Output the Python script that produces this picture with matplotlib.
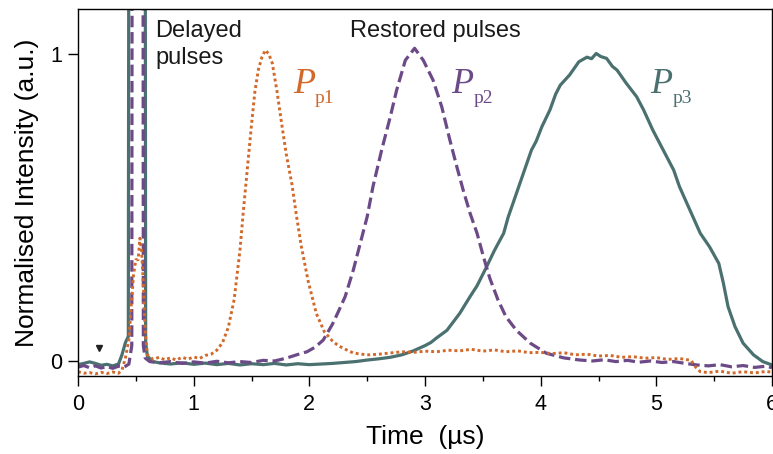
import matplotlib
matplotlib.use('Agg')
import matplotlib.pyplot as plt
from matplotlib.ticker import MultipleLocator

###### Data ######
# Pp1 - orange dotted
t_p1 = [0.00, 0.05, 0.10, 0.15, 0.20, 0.25, 0.30, 0.35, 0.38, 0.41, 0.44, 0.46, 0.48, 0.50,
        0.52, 0.535, 0.55, 0.565, 0.58, 0.60, 0.65, 0.70, 0.75, 0.80, 0.85, 0.90, 0.95, 1.00,
        1.05, 1.10, 1.15, 1.20, 1.25, 1.30, 1.35, 1.40, 1.43, 1.46, 1.50, 1.53, 1.56, 1.59,
        1.62, 1.65, 1.68, 1.72, 1.76, 1.80, 1.85, 1.89, 1.93, 1.99, 2.06, 2.13, 2.20, 2.25,
        2.30, 2.38, 2.45, 2.52, 2.60, 2.70, 2.80, 2.90, 3.00, 3.10, 3.20, 3.30, 3.40, 3.50,
        3.60, 3.70, 3.80, 3.90, 4.00, 4.10, 4.20, 4.30, 4.40, 4.50, 4.60, 4.70, 4.80, 4.90,
        5.00, 5.10, 5.20, 5.30, 5.34, 5.38, 5.45, 5.55, 5.65, 5.75, 5.85, 5.95, 6.00]
i_p1 = [-0.035, -0.040, -0.038, -0.042, -0.037, -0.041, -0.036, -0.040, -0.030, 0.010, 0.070,
        0.180, 0.280, 0.330, 0.330, 0.400, 0.360, 0.250, 0.100, 0.020, 0.005, 0.012, 0.004,
        0.010, 0.003, 0.012, 0.006, 0.013, 0.008, 0.018, 0.022, 0.035, 0.060, 0.110, 0.200,
        0.360, 0.490, 0.610, 0.770, 0.880, 0.950, 0.990, 1.013, 1.000, 0.970, 0.880, 0.775,
        0.675, 0.575, 0.470, 0.375, 0.260, 0.155, 0.095, 0.065, 0.050, 0.040, 0.026, 0.022,
        0.020, 0.022, 0.026, 0.030, 0.028, 0.032, 0.030, 0.035, 0.033, 0.038, 0.032, 0.036,
        0.030, 0.033, 0.027, 0.028, 0.024, 0.027, 0.020, 0.022, 0.016, 0.018, 0.012, 0.014,
        0.009, 0.011, 0.005, 0.008, 0.002, -0.020, -0.035, -0.038, -0.033, -0.040, -0.035,
        -0.039, -0.034, -0.037]

# Pp2 - purple dashed
t_p2 = [0.00, 0.05, 0.10, 0.15, 0.20, 0.25, 0.30, 0.35, 0.40, 0.44, 0.465, 0.475, 0.555, 0.565,
        0.58, 0.62, 0.70, 0.80, 0.90, 1.00, 1.10, 1.20, 1.30, 1.40, 1.50, 1.60, 1.70, 1.80,
        1.89, 1.98, 2.05, 2.12, 2.20, 2.25, 2.31, 2.38, 2.44, 2.50, 2.55, 2.625, 2.70, 2.755,
        2.83, 2.91, 2.985, 3.07, 3.145, 3.215, 3.275, 3.33, 3.39, 3.45, 3.505, 3.56, 3.63,
        3.70, 3.79, 3.91, 4.05, 4.20, 4.34, 4.45, 4.55, 4.65, 4.75, 4.85, 4.95, 5.05, 5.15,
        5.25, 5.35, 5.45, 5.55, 5.65, 5.75, 5.85, 5.95, 6.00]
i_p2 = [-0.020, -0.015, -0.022, -0.016, -0.023, -0.018, -0.024, -0.017, -0.020, -0.010, 0.050,
        5.0, 5.0, 0.050, 0.010, -0.002, -0.006, -0.002, -0.008, -0.003, -0.007, -0.001, -0.006,
        -0.002, -0.005, 0.002, 0.000, 0.009, 0.020, 0.030, 0.045, 0.068, 0.120, 0.160, 0.210,
        0.296, 0.383, 0.470, 0.568, 0.687, 0.796, 0.883, 0.980, 1.019, 0.980, 0.915, 0.828,
        0.720, 0.633, 0.557, 0.481, 0.416, 0.340, 0.270, 0.200, 0.144, 0.100, 0.058, 0.025,
        0.010, 0.003, 0.000, 0.004, -0.002, 0.002, -0.004, 0.000, -0.005, -0.002, -0.008,
        -0.013, -0.016, -0.012, -0.019, -0.015, -0.021, -0.017, -0.022]

# Pp3 - teal solid
t_p3 = [0.00, 0.05, 0.10, 0.15, 0.20, 0.25, 0.30, 0.35, 0.38, 0.41, 0.435, 0.45, 0.572, 0.585,
        0.60, 0.65, 0.70, 0.80, 0.90, 1.00, 1.10, 1.20, 1.30, 1.40, 1.50, 1.60, 1.70, 1.80,
        1.90, 2.00, 2.10, 2.20, 2.30, 2.40, 2.50, 2.60, 2.70, 2.80, 2.90, 3.00, 3.05, 3.10,
        3.19, 3.30, 3.39, 3.45, 3.53, 3.60, 3.68, 3.72, 3.76, 3.85, 3.92, 3.96, 4.01, 4.08,
        4.13, 4.17, 4.25, 4.33, 4.40, 4.44, 4.48, 4.52, 4.57, 4.62, 4.66, 4.74, 4.83, 4.89,
        4.97, 5.06, 5.15, 5.20, 5.29, 5.38, 5.46, 5.54, 5.58, 5.62, 5.68, 5.75, 5.84, 5.92,
        6.00]
i_p3 = [-0.012, -0.008, -0.003, -0.008, -0.014, -0.011, -0.016, -0.010, 0.020, 0.060, 0.080,
        5.0, 5.0, 0.060, 0.015, -0.002, -0.006, -0.010, -0.006, -0.011, -0.007, -0.012, -0.008,
        -0.013, -0.009, -0.012, -0.008, -0.013, -0.009, -0.012, -0.010, -0.008, -0.005, -0.002,
        0.003, 0.007, 0.012, 0.020, 0.033, 0.050, 0.060, 0.075, 0.100, 0.155, 0.210, 0.245,
        0.305, 0.360, 0.416, 0.470, 0.513, 0.611, 0.687, 0.715, 0.763, 0.818, 0.870, 0.899,
        0.932, 0.975, 0.990, 0.985, 1.002, 0.992, 0.986, 0.960, 0.948, 0.905, 0.861, 0.818,
        0.752, 0.687, 0.622, 0.568, 0.492, 0.416, 0.372, 0.318, 0.253, 0.177, 0.112, 0.058,
        0.020, -0.002, -0.013]

labels = ['p1', 'p2', 'p3']
label_x = [1.86, 3.23, 4.95]
colors = ['#D2692A', '#6C4A87', '#4A716F']

###### Plot ######
plt.rcParams['font.family'] = ['Liberation Sans', 'DejaVu Sans']

fig = plt.figure(figsize=(7.73, 4.54), dpi=100)
ax = fig.add_axes([78/773, 1 - 376/454, 694/773, (376 - 9.3)/454])

ax.plot(t_p3, i_p3, color=colors[2], lw=2.3, solid_joinstyle='round')
ax.plot(t_p2, i_p2, color=colors[1], lw=2.3, linestyle=(0, (3.6, 1.5)))
ax.plot(t_p1, i_p1, color=colors[0], lw=2.1, linestyle=(0, (1, 1)))

# small marker near the start
ax.plot([0.18], [0.042], marker='v', color='#222222', markersize=5, linestyle='none')

ax.set_xlim(0, 6)
ax.set_ylim(-0.049, 1.146)
ax.xaxis.set_major_locator(MultipleLocator(1))
ax.xaxis.set_minor_locator(MultipleLocator(0.5))
ax.set_yticks([0, 1])
ax.set_yticklabels(['0', '1'])
ax.tick_params(axis='both', which='major', direction='out', length=7, width=1.0,
               labelsize=15.5, pad=4)
ax.tick_params(axis='x', which='major', pad=6)
ax.tick_params(axis='x', which='minor', direction='out', length=3.5, width=1.0)
for s in ax.spines.values():
    s.set_linewidth(1.0)

ax.set_xlabel('Time  (\u00b5s)', fontsize=19, labelpad=7)
ax.set_ylabel('Normalised Intensity (a.u.)', fontsize=19, labelpad=8)

# annotations
ax.text(0.666, 1.11, 'Delayed\npulses', fontsize=17, ha='left', va='top',
        color='#1a1a1a', linespacing=1.25)
ax.text(2.35, 1.11, 'Restored pulses', fontsize=17, ha='left', va='top', color='#1a1a1a')

for lx, lab, c in zip(label_x, labels, colors):
    ax.text(lx, 0.873, 'P', fontsize=26, family='Liberation Serif', style='italic',
            color=c, ha='left', va='baseline')
    ax.text(lx + 0.19, 0.84, lab, fontsize=14, family='Liberation Serif',
            color=c, ha='left', va='baseline')

fig.savefig('out.png', dpi=100)
